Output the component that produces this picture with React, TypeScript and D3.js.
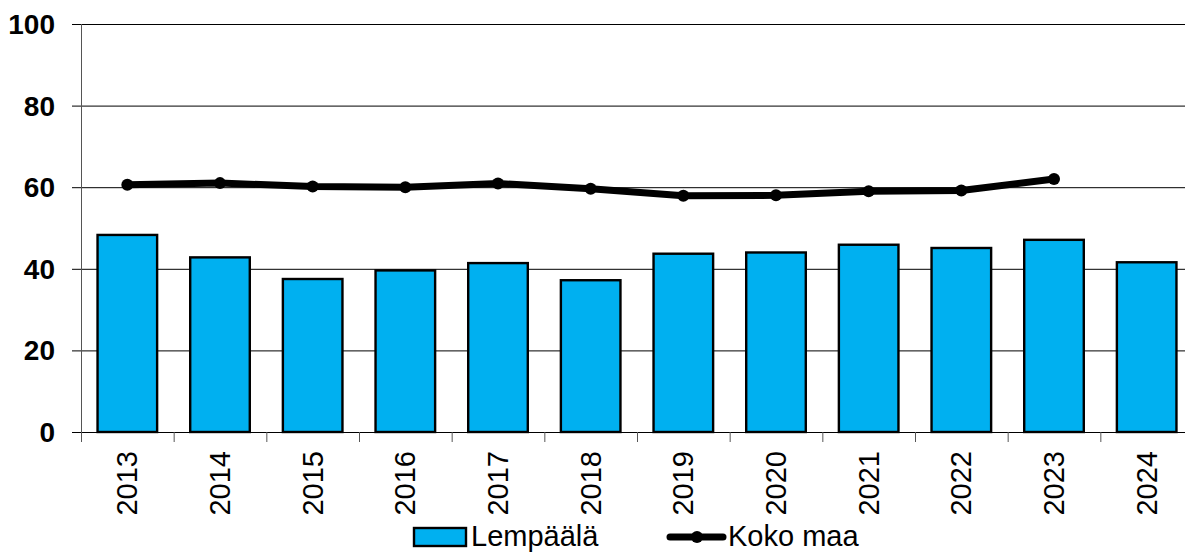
import * as d3 from "d3";
import { useEffect, useRef } from "react";

const years = ["2013", "2014", "2015", "2016", "2017", "2018", "2019", "2020", "2021", "2022", "2023", "2024"];
const lempaala = [48.3, 42.8, 37.5, 39.6, 41.4, 37.2, 43.7, 44.0, 45.9, 45.1, 47.1, 41.6];
const kokoMaa = [60.6, 61.0, 60.2, 60.0, 60.9, 59.6, 57.9, 58.0, 59.0, 59.2, 62.0];
const yTicks = [0, 20, 40, 60, 80, 100];

export default function App() {
  const svgRef = useRef(null);
  const width = 1185;
  const height = 552;
  const margin = { top: 24, left: 81, bottom: 432 };
  const plotRight = 1193;

  useEffect(() => {
    document.body.style.margin = "0";
    const svg = d3.select(svgRef.current);
    svg.selectAll("*").remove();

    const x = d3
      .scaleBand()
      .domain(years)
      .range([margin.left, plotRight])
      .paddingInner(0.357)
      .paddingOuter(0.1785);
    const y = d3.scaleLinear().domain([0, 100]).range([margin.bottom, margin.top]);
    const step = x.step();
    const font = "'Liberation Sans', Arial, sans-serif";

    // gridlines
    svg
      .append("g")
      .selectAll("line")
      .data(yTicks)
      .enter()
      .append("line")
      .attr("x1", margin.left - 9)
      .attr("x2", plotRight)
      .attr("y1", (d) => y(d) + 0.5)
      .attr("y2", (d) => y(d) + 0.5)
      .attr("stroke", "#000")
      .attr("stroke-width", 1);

    // y axis line
    svg
      .append("line")
      .attr("x1", margin.left + 0.5)
      .attr("x2", margin.left + 0.5)
      .attr("y1", margin.top)
      .attr("y2", margin.bottom + 10)
      .attr("stroke", "#555")
      .attr("stroke-width", 1);

    // x ticks
    svg
      .append("g")
      .selectAll("line")
      .data(d3.range(years.length + 1))
      .enter()
      .append("line")
      .attr("x1", (i) => margin.left + i * step + 0.5)
      .attr("x2", (i) => margin.left + i * step + 0.5)
      .attr("y1", margin.bottom)
      .attr("y2", margin.bottom + 10)
      .attr("stroke", "#555")
      .attr("stroke-width", 1);

    // y labels
    svg
      .append("g")
      .selectAll("text")
      .data(yTicks)
      .enter()
      .append("text")
      .attr("x", 55)
      .attr("y", (d) => y(d) + 10)
      .attr("text-anchor", "end")
      .attr("font-family", font)
      .attr("font-weight", "bold")
      .attr("font-size", 28)
      .text((d) => d);

    // bars
    svg
      .append("g")
      .selectAll("rect")
      .data(lempaala)
      .enter()
      .append("rect")
      .attr("x", (_, i) => x(years[i]) || 0)
      .attr("y", (d) => y(d))
      .attr("width", x.bandwidth())
      .attr("height", (d) => y(0) - y(d))
      .attr("fill", "#00B0F0")
      .attr("stroke", "#000")
      .attr("stroke-width", 2.4);

    // line series
    const cx = (i: number) => (x(years[i]) || 0) + x.bandwidth() / 2;
    const line = d3
      .line<number>()
      .x((_, i) => cx(i))
      .y((d) => y(d));
    svg
      .append("path")
      .datum(kokoMaa)
      .attr("d", line)
      .attr("fill", "none")
      .attr("stroke", "#000")
      .attr("stroke-width", 7)
      .attr("stroke-linejoin", "round");
    svg
      .append("g")
      .selectAll("circle")
      .data(kokoMaa)
      .enter()
      .append("circle")
      .attr("cx", (_, i) => cx(i))
      .attr("cy", (d) => y(d))
      .attr("r", 6)
      .attr("fill", "#000");

    // x labels
    svg
      .append("g")
      .selectAll("text")
      .data(years)
      .enter()
      .append("text")
      .attr("transform", (d) => `translate(${(x(d) || 0) + x.bandwidth() / 2 + 10},451) rotate(-90)`)
      .attr("text-anchor", "end")
      .attr("font-family", font)
      .attr("font-size", 29)
      .text((d) => d);

    // legend
    const legend = svg.append("g");
    legend
      .append("rect")
      .attr("x", 414)
      .attr("y", 528)
      .attr("width", 52)
      .attr("height", 18)
      .attr("fill", "#00B0F0")
      .attr("stroke", "#000")
      .attr("stroke-width", 2.4);
    legend
      .append("text")
      .attr("x", 471)
      .attr("y", 546)
      .attr("font-family", font)
      .attr("font-size", 29)
      .text("Lempäälä");
    legend
      .append("line")
      .attr("x1", 670)
      .attr("x2", 723)
      .attr("y1", 537)
      .attr("y2", 537)
      .attr("stroke", "#000")
      .attr("stroke-width", 7)
      .attr("stroke-linecap", "round");
    legend
      .append("circle")
      .attr("cx", 697)
      .attr("cy", 537)
      .attr("r", 6)
      .attr("fill", "#000");
    legend
      .append("text")
      .attr("x", 728)
      .attr("y", 546)
      .attr("font-family", font)
      .attr("font-size", 29)
      .text("Koko maa");
  }, []);

  return (
    <svg
      ref={svgRef}
      width={width}
      height={height}
      style={{ position: "fixed", left: 0, top: 0, display: "block", background: "#fff" }}
    ></svg>
  );
}
